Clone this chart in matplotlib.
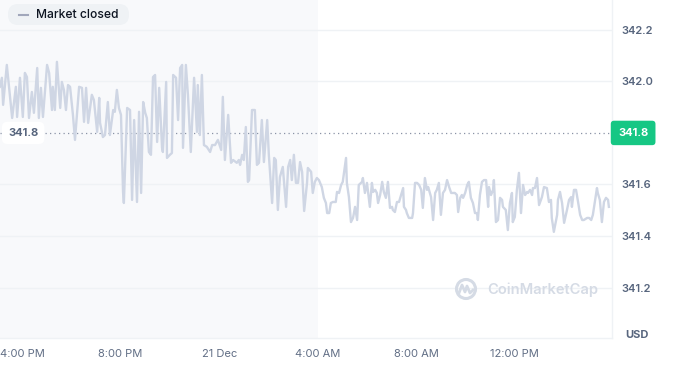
import matplotlib.pyplot as plt
from matplotlib.patches import FancyBboxPatch, Circle
from matplotlib.lines import Line2D
from matplotlib.transforms import IdentityTransform, blended_transform_factory

# minutes after 4:00 PM (20 Dec) and price in USD
minutes = [-54, -49, -46, -37, -24, -15, -12, -5, 2, 7, 12, 17, 24, 29, 37, 41, 46, 51,
           61, 66, 73, 75, 80, 85, 93, 97, 102, 107, 112, 117, 124, 129, 139, 146, 151,
           156, 161, 170, 175, 183, 188, 190, 197, 202, 209, 214, 222, 226, 231, 236,
           241, 246, 248, 256, 263, 268, 273, 280, 285, 290, 295, 300, 304, 309, 314,
           319, 324, 329, 334, 341, 343, 351, 353, 360, 365, 368, 375, 380, 385, 390,
           392, 399, 404, 411, 419, 426, 428, 433, 438, 443, 450, 458, 463, 470, 477,
           485, 489, 494, 502, 509, 514, 523, 528, 531, 536, 540, 545, 550, 553, 560,
           567, 572, 577, 584, 589, 597, 601, 609, 614, 618, 623, 628, 635, 643, 648,
           653, 657, 662, 667, 672, 677, 682, 687, 694, 696, 704, 708, 713, 718, 723,
           730, 735, 740, 743, 748, 752, 757, 764, 767, 772, 777, 781, 789, 791, 796,
           801, 806, 811, 816, 820, 828, 830, 835, 840, 842, 847, 852, 855, 860, 864,
           867, 872, 877, 881, 886, 891, 896, 901, 903, 908, 913, 918, 923, 928, 930,
           935, 937, 942, 950, 952, 957, 962, 967, 972, 976, 981, 986, 989, 996, 1001,
           1006, 1010, 1015, 1020, 1025, 1030, 1035, 1040, 1045, 1054, 1059, 1062, 1067,
           1071, 1074, 1079, 1084, 1088, 1093, 1098, 1103, 1108, 1110, 1115, 1120, 1125,
           1130, 1135, 1137, 1142, 1147, 1149, 1154, 1159, 1164, 1169, 1171, 1178, 1183,
           1188, 1193, 1195, 1200, 1205, 1210, 1215, 1220, 1225, 1230, 1232, 1237, 1242,
           1244, 1249, 1254, 1259, 1266, 1271, 1278, 1283, 1288, 1290, 1295, 1303, 1305,
           1310, 1315, 1320, 1327, 1332, 1337, 1339, 1344, 1349, 1354, 1359, 1364, 1368,
           1376, 1381, 1386, 1390, 1400, 1402, 1407, 1412, 1417, 1422, 1427, 1429]
prices = [341.979, 342.014, 341.909, 342.064, 341.858, 341.979, 341.862, 342.014, 341.862,
          342.033, 342.017, 341.858, 341.959, 341.878, 342.052, 341.858, 341.975, 341.862,
          342.064, 342.033, 341.889, 341.979, 341.889, 342.076, 341.897, 341.998, 341.967,
          341.889, 341.986, 341.979, 341.870, 341.773, 341.979, 341.975, 341.843, 341.975,
          341.839, 341.948, 341.928, 341.804, 341.936, 341.839, 341.784, 341.792, 341.920,
          341.792, 341.889, 341.882, 341.967, 341.897, 341.870, 341.571, 341.528, 341.897,
          341.889, 341.540, 341.850, 341.532, 341.882, 341.567, 341.920, 341.878, 341.858,
          341.726, 341.715, 342.017, 342.025, 341.765, 341.975, 341.742, 341.726, 341.998,
          341.703, 341.715, 341.722, 342.025, 342.014, 341.850, 342.052, 342.064, 341.742,
          342.064, 341.948, 341.726, 342.014, 341.804, 341.986, 341.792, 342.025, 341.753,
          341.746, 341.726, 341.753, 341.753, 341.773, 341.734, 341.940, 341.695, 341.870,
          341.684, 341.695, 341.684, 341.695, 341.676, 341.715, 341.695, 341.823, 341.610,
          341.617, 341.889, 341.889, 341.676, 341.684, 341.850, 341.687, 341.850, 341.715,
          341.528, 341.703, 341.695, 341.501, 341.629, 341.668, 341.513, 341.668, 341.695,
          341.617, 341.715, 341.606, 341.606, 341.687, 341.649, 341.497, 341.606, 341.664,
          341.649, 341.567, 341.610, 341.625, 341.617, 341.590, 341.548, 341.528, 341.489,
          341.489, 341.528, 341.532, 341.532, 341.571, 341.567, 341.598, 341.610, 341.703,
          341.606, 341.551, 341.454, 341.470, 341.513, 341.462, 341.598, 341.610, 341.625,
          341.567, 341.606, 341.579, 341.513, 341.606, 341.571, 341.579, 341.567, 341.528,
          341.559, 341.610, 341.571, 341.548, 341.610, 341.509, 341.513, 341.501, 341.493,
          341.532, 341.532, 341.559, 341.586, 341.513, 341.501, 341.489, 341.470, 341.470,
          341.489, 341.606, 341.606, 341.598, 341.579, 341.509, 341.625, 341.579, 341.590,
          341.551, 341.462, 341.567, 341.579, 341.606, 341.482, 341.567, 341.579, 341.617,
          341.590, 341.567, 341.567, 341.559, 341.493, 341.548, 341.559, 341.548, 341.567,
          341.598, 341.610, 341.548, 341.528, 341.489, 341.489, 341.462, 341.559, 341.610,
          341.617, 341.617, 341.513, 341.590, 341.559, 341.579, 341.617, 341.454, 341.462,
          341.548, 341.540, 341.513, 341.501, 341.423, 341.528, 341.567, 341.454, 341.474,
          341.579, 341.645, 341.489, 341.598, 341.559, 341.571, 341.567, 341.579, 341.559,
          341.586, 341.586, 341.625, 341.520, 341.551, 341.590, 341.586, 341.532, 341.540,
          341.470, 341.416, 341.482, 341.540, 341.571, 341.528, 341.451, 341.501, 341.540,
          341.551, 341.513, 341.579, 341.579, 341.532, 341.482, 341.462, 341.462, 341.470,
          341.470, 341.462, 341.482, 341.586, 341.567, 341.540, 341.454, 341.532, 341.548,
          341.540, 341.513]

tick_minutes = [0, 240, 480, 720, 960, 1200]
tick_labels = ['4:00 PM', '8:00 PM', '21 Dec', '4:00 AM', '8:00 AM', '12:00 PM']
price_ticks = [341.2, 341.4, 341.6, 342.0, 342.2]
last_price = 341.8
closed_until = 720  # market closed until 4:00 AM

plt.rcParams['font.family'] = ['Inter', 'DejaVu Sans']

W, H = 676, 365
fig = plt.figure(figsize=(W / 100, H / 100), dpi=100)
ax = fig.add_axes([0, 27 / H, 612 / W, 338 / H])

ax.axvspan(-100, closed_until, color='#f8f9fb', lw=0, zorder=0)
ax.plot(minutes, prices, color='#cfd6e4', lw=1.7, zorder=3, solid_joinstyle='round')
ax.axhline(last_price, color='#8a93a6', lw=0.9, ls=(0, (1, 2.6)), zorder=2)

ax.set_xlim(-53.6, 1436.6)
ax.set_ylim(341.004, 342.316)
ax.set_yticks(price_ticks)
ax.set_yticklabels([f'{v:.1f}' for v in price_ticks])
ax.yaxis.tick_right()
ax.tick_params(axis='y', length=0, pad=7, labelsize=8, labelcolor='#58667e')
for lbl in ax.get_yticklabels():
    lbl.set_fontweight('semibold')
ax.set_xticks(tick_minutes)
ax.set_xticklabels(tick_labels)
ax.tick_params(axis='x', length=0, pad=8, labelsize=8, labelcolor='#616e85')
ax.grid(axis='y', color='#eff2f5', lw=1, zorder=1)
ax.set_facecolor('white')
for s in ['top', 'left']:
    ax.spines[s].set_visible(False)
for s in ['right', 'bottom']:
    ax.spines[s].set_color('#eff2f5')
    ax.spines[s].set_linewidth(1)

# price labels on the dotted line
tr = blended_transform_factory(ax.transAxes, ax.transData)
ax.text(618 / 612, last_price, '341.8', transform=tr, ha='left', va='center',
        color='white', fontsize=8, fontweight='bold', clip_on=False, zorder=6,
        bbox=dict(boxstyle='round,pad=0.65,rounding_size=0.3', fc='#16c784', ec='none'))
ax.text(8 / 612, last_price, '341.8', transform=tr, ha='left', va='center',
        color='#58667e', fontsize=8, fontweight='bold', zorder=6,
        bbox=dict(boxstyle='round,pad=0.55,rounding_size=0.5', fc='white', ec='none'))

# "Market closed" pill
pix = IdentityTransform()
fig.add_artist(FancyBboxPatch((8, H - 25), 121, 21, boxstyle='round,pad=0,rounding_size=10',
                              fc='#eff2f5', ec='none', transform=pix))
fig.add_artist(Line2D([19, 28], [H - 14.5, H - 14.5], color='#a1a7bb', lw=1.5, transform=pix))
fig.text(36 / W, 1 - 14.5 / H, 'Market closed', ha='left', va='center',
         color='#0d1421', fontsize=8.7, fontweight='medium')

# watermark
fig.add_artist(Circle((466, H - 289), 9.5, fill=False, ec='#d5dbe5', lw=2.2, transform=pix))
fig.add_artist(Line2D([459, 462, 465, 467, 470, 473], [H - 293, H - 285, H - 292, H - 286, H - 293, H - 290],
                      color='#d5dbe5', lw=2, transform=pix, solid_joinstyle='round'))
fig.text(487 / W, 1 - 290 / H, 'CoinMarketCap', ha='left', va='center',
         color='#d5dbe5', fontsize=10.6, fontweight='semibold')

fig.text(637 / W, 1 - 335 / H, 'USD', ha='center', va='center',
         color='#58667e', fontsize=8, fontweight='bold')

fig.savefig('out.png', dpi=100, facecolor='white')
